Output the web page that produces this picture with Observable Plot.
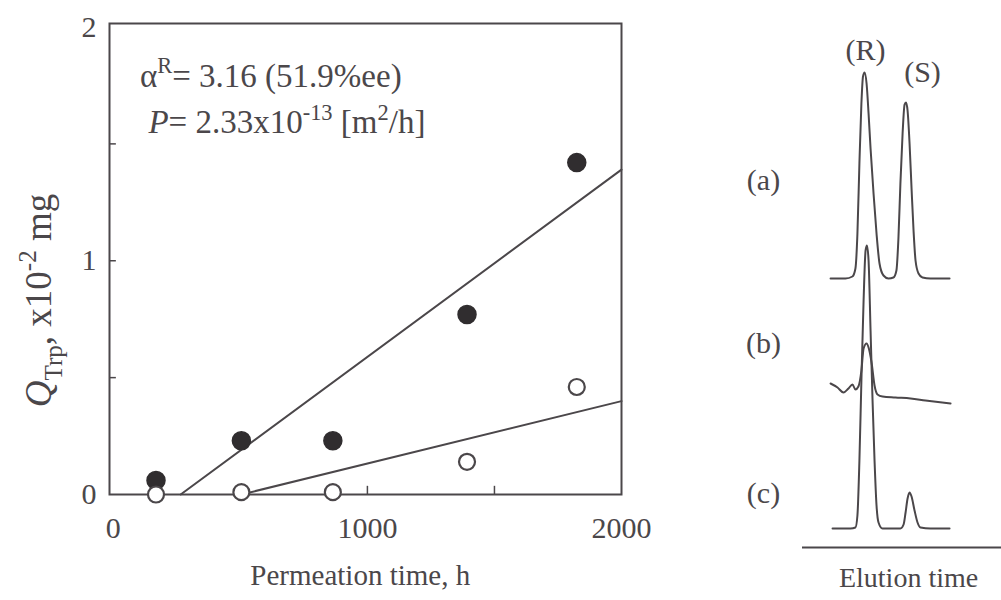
<!DOCTYPE html>
<html><head><meta charset="utf-8">
<script src="https://cdn.jsdelivr.net/npm/d3@7"></script>
<script src="https://cdn.jsdelivr.net/npm/@observablehq/plot@0.6"></script>
<style>
html,body{margin:0;padding:0;background:#fff;}
#wrap{position:relative;width:1001px;height:600px;overflow:hidden;background:#fff;}
#left{position:absolute;left:0;top:0;}
#right{position:absolute;left:700px;top:0;}
svg{overflow:visible;}
</style></head><body><div id="wrap"><div id="left"></div><div id="right"></div></div>
<script>
// ---------- data: permeation experiment ----------
const permeationTime = [168, 504, 864, 1392, 1824];      // h
const qTrpR = [0.06, 0.23, 0.23, 0.77, 1.42];             // filled circles, x10^-2 mg
const qTrpS = [0.00, 0.01, 0.01, 0.14, 0.46];             // open circles, x10^-2 mg
const fitSeries = ["R", "S"];
const fitOnset = [265, 504];                              // h, where fitted line leaves zero
const fitSlope = [8.01e-4, 2.67e-4];                      // (x10^-2 mg)/h
const xTickValues = [0, 1000, 2000];
const xMinorTicks = [500, 1000, 1500];
const yTickValues = [0, 1, 2];
const yMinorTicks = [0.5, 1, 1.5];
const xTitle = "Permeation time, h";
const yTitleParts = [{t:"Q", i:true},{t:"Trp", sub:true},{t:", x10"},{t:"-2", sup:true},{t:" mg"}];
const note1Parts = [{t:"α"},{t:"R", sup:true},{t:"= 3.16 (51.9%ee)"}];
const note2Parts = [{t:"P", i:true},{t:"= 2.33x10"},{t:"-13", sup:true},{t:" [m"},{t:"2", sup:true},{t:"/h]"}];

// ---------- data: HPLC chromatograms [elution time, signal] ----------
const traceIds = ["a", "b", "c"];
const traceA = [[1.41,0],[2.16,0],[2.51,0.02],[2.66,0.10],[2.76,0.45],[2.86,1.15],[2.96,1.75],[3.04,2.02],[3.12,2.06],[3.22,1.95],[3.32,1.65],[3.42,1.30],[3.57,0.85],[3.72,0.45],[3.87,0.15],[4.07,0.03],[4.32,0],[4.57,0.01],[4.72,0.08],[4.82,0.40],[4.92,0.95],[5.03,1.45],[5.13,1.74],[5.20,1.76],[5.28,1.68],[5.38,1.35],[5.48,0.90],[5.58,0.48],[5.68,0.18],[5.83,0.05],[6.03,0.01],[6.43,0],[7.39,0]];
const traceB = [[1.41,0.07],[1.76,0.03],[2.06,-0.02],[2.31,0.02],[2.51,0.06],[2.66,0.01],[2.81,0.04],[2.96,0.20],[3.07,0.42],[3.22,0.47],[3.32,0.43],[3.47,0.28],[3.62,0.05],[3.77,-0.04],[4.02,-0.06],[4.67,-0.07],[5.43,-0.08],[6.18,-0.10],[7.44,-0.13]];
const traceC = [[1.51,0],[2.41,0],[2.66,0.01],[2.76,0.13],[2.86,0.68],[2.96,1.48],[3.07,2.28],[3.17,2.78],[3.24,2.83],[3.32,2.68],[3.42,1.98],[3.52,1.28],[3.62,0.68],[3.72,0.23],[3.82,0.06],[4.02,0],[4.92,0],[5.08,0.04],[5.18,0.16],[5.28,0.30],[5.38,0.36],[5.48,0.32],[5.63,0.18],[5.78,0.06],[5.93,0.01],[6.43,0],[7.39,0]];
const traceLabels = ["(a)", "(b)", "(c)"];
const peakLabels = ["(R)", "(S)"];
const rightTitle = "Elution time";

// ---------- layout / style ----------
const serif = '"Liberation Serif", "Times New Roman", serif';
const ink = "#4b474a";
const dotInk = "#302d2f";
const traceOffset = {a: 2.69, b: 1.57, c: 0.19};
const traceLabelY = {a: 3.67, b: 2.04, c: 0.54};

// ---------- left panel ----------
const pts = permeationTime.map((t, k) => ({t, r: qTrpR[k], s: qTrpS[k]}));
const xMax = 2000;
const fitRows = fitSeries.flatMap((id, k) => [
  {id, t: fitOnset[k], q: 0},
  {id, t: xMax, q: fitSlope[k] * (xMax - fitOnset[k])}
]);
const plain = parts => parts.map(p => p.t).join("");

const left = Plot.plot({
  width: 700, height: 600,
  marginLeft: 109, marginRight: 79, marginTop: 23, marginBottom: 106,
  style: {fontFamily: serif, color: ink, background: "transparent", overflow: "visible"},
  x: {domain: [-15, xMax]},
  y: {domain: [0, 2.015]},
  marks: [
    Plot.axisX(xTickValues, {tickSize: 0, tickPadding: 22, fontSize: 30, label: null, tickFormat: d => String(d)}),
    Plot.axisY(yTickValues, {tickSize: 0, tickPadding: 13, fontSize: 30, label: null, tickFormat: d => String(d)}),
    Plot.ruleY(yMinorTicks, {x1: -15, x2: 12, stroke: ink, strokeWidth: 1.5}),
    Plot.ruleX(xMinorTicks, {y1: 0, y2: 0.035, stroke: ink, strokeWidth: 1.5}),
    Plot.frame({stroke: ink, strokeWidth: 2}),
    Plot.line(fitRows, {x: "t", y: "q", z: "id", stroke: ink, strokeWidth: 2}),
    Plot.dot(pts, {x: "t", y: "r", r: 9, fill: dotInk, stroke: dotInk}),
    Plot.dot(pts, {x: "t", y: "s", r: 8, fill: "white", stroke: ink, strokeWidth: 2.2}),
    Plot.text([plain(note1Parts)], {x: 105, y: 1.79, textAnchor: "start", fontSize: 33, fill: ink}),
    Plot.text([plain(note2Parts)], {x: 138, y: 1.59, textAnchor: "start", fontSize: 33, fill: ink}),
    Plot.text([plain(yTitleParts)], {frameAnchor: "left", textAnchor: "middle", y: 0.83, dx: -70, rotate: -90, fontSize: 37, fill: ink}),
    Plot.text([xTitle], {x: 972, frameAnchor: "bottom", dy: 90, fontSize: 29, fill: ink})
  ]
});
document.getElementById("left").appendChild(left);

// rich text (italic / sub / superscript) as real SVG tspans
function richify(svg, parts, fs) {
  const s = plain(parts);
  d3.select(svg).selectAll("text").filter(function(){ return this.textContent === s; }).each(function(){
    const el = d3.select(this);
    el.text(null);
    let shift = 0;
    for (const p of parts) {
      const ts = el.append("tspan").text(p.t);
      let target = 0, size = fs;
      if (p.sup) { target = -0.42 * fs; size = 0.68 * fs; }
      if (p.sub) { target = 0.28 * fs; size = 0.68 * fs; }
      ts.attr("font-size", size).attr("dy", target - shift);
      if (p.i) ts.attr("font-style", "italic");
      shift = target;
    }
  });
}
richify(left, note1Parts, 33);
richify(left, note2Parts, 33);
richify(left, yTitleParts, 37);

// ---------- right panel ----------
const traces = {a: traceA, b: traceB, c: traceC};
const traceRows = traceIds.flatMap(id => traces[id].map(([t, s]) => ({id, t, y: s + traceOffset[id]})));
const labelRows = traceIds.map((id, k) => ({label: traceLabels[k], y: traceLabelY[id]}));
// peak labels sit above the peaks of trace (a)
const peakOf = (lo, hi) => traceA.filter(([t]) => t >= lo && t <= hi).reduce((m, p) => p[1] > m[1] ? p : m);
const rPeak = peakOf(2.5, 4), sPeak = peakOf(4.5, 6);
const peakRows = [
  {label: peakLabels[0], t: rPeak[0] + 0.05, y: rPeak[1] + traceOffset.a + 0.22},
  {label: peakLabels[1], t: sPeak[0] + 0.83, y: sPeak[1] + traceOffset.a + 0.30}
];

const right = Plot.plot({
  width: 301, height: 600,
  marginLeft: 102, marginRight: 0, marginTop: 0, marginBottom: 53,
  style: {fontFamily: serif, color: ink, background: "transparent", overflow: "visible"},
  x: {domain: [0, 10], axis: null},
  y: {domain: [0, 5.47], axis: null},
  marks: [
    Plot.ruleY([0], {stroke: ink, strokeWidth: 2}),
    Plot.line(traceRows, {x: "t", y: "y", z: "id", curve: "monotone-x", stroke: ink, strokeWidth: 2}),
    Plot.text(labelRows, {x: -1.96, y: "y", text: "label", fontSize: 30, fill: ink}),
    Plot.text(peakRows, {x: "t", y: "y", text: "label", fontSize: 30, fill: ink}),
    Plot.text([rightTitle], {x: 5.33, y: -0.31, fontSize: 28, fill: ink})
  ]
});
document.getElementById("right").appendChild(right);
</script></body></html>
